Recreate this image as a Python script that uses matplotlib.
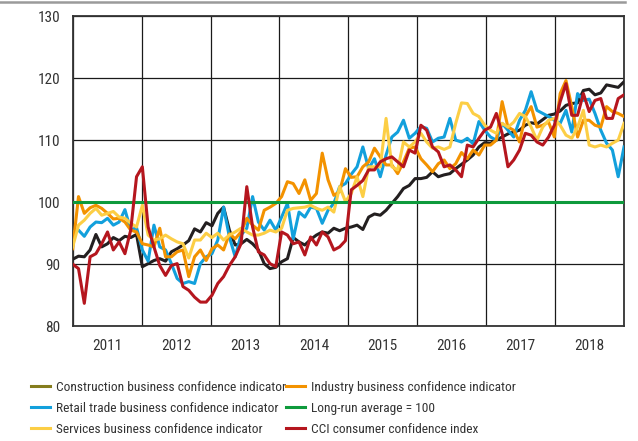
import numpy as np
import matplotlib
matplotlib.use("Agg")
import matplotlib.pyplot as plt
from matplotlib.lines import Line2D
from matplotlib import font_manager

# ----------------------------------------------------------------- data
years = ["2011", "2012", "2013", "2014", "2015", "2016", "2017", "2018"]

construction = [
    90.8, 91.3, 91.2, 92.3, 94.8, 92.8, 93.3, 94.3, 93.8, 94.5, 94.3, 94.8,
    89.6, 90.1, 90.6, 90.9, 90.5, 92.0, 92.5, 93.1, 93.8, 95.7, 95.2, 96.7,
    96.2, 98.2, 99.2, 95.5, 93.1, 93.3, 94.0, 93.3, 92.3, 90.1, 89.3, 89.5,
    90.4, 90.9, 94.3, 93.6, 93.1, 94.0, 94.7, 95.2, 95.0, 95.8, 95.4, 95.8,
    96.0, 96.3, 95.6, 97.6, 98.1, 97.9, 98.7, 99.8, 100.9, 102.2, 102.7, 103.8,
    103.8, 104.0, 104.9, 104.1, 104.4, 104.6, 105.4, 106.1, 106.8, 107.6, 108.9, 109.6,
    109.5, 110.0, 110.5, 111.0, 111.3, 111.6, 112.4, 112.8, 112.6, 113.3, 114.0, 114.2,
    114.7, 115.6, 115.9, 116.0, 118.0, 118.2, 117.3, 117.6, 118.9, 118.7, 118.5, 119.4,
]

retail = [
    95.2, 95.5, 94.5, 96.0, 96.8, 96.7, 97.4, 96.3, 96.8, 98.8, 95.5, 95.9,
    92.3, 90.5, 96.3, 92.8, 92.3, 90.1, 87.7, 86.9, 87.2, 86.9, 90.1, 91.2,
    91.7, 93.9, 99.2, 94.4, 91.2, 94.7, 95.8, 100.9, 96.8, 95.5, 97.1, 95.5,
    97.6, 99.8, 94.1, 98.4, 97.6, 99.2, 99.0, 96.6, 98.7, 99.8, 102.5, 103.0,
    104.5, 105.7, 108.9, 105.4, 107.0, 104.1, 107.6, 110.5, 111.3, 113.2, 110.3, 111.1,
    112.2, 111.9, 109.7, 110.3, 110.5, 113.5, 110.0, 109.7, 110.3, 109.4, 113.0, 111.6,
    110.5, 110.0, 112.7, 111.6, 110.5, 113.2, 114.8, 117.8, 114.8, 114.3, 113.8, 113.2,
    112.7, 114.8, 111.3, 117.5, 116.4, 116.6, 114.3, 111.6, 109.5, 108.4, 104.1, 108.9,
]

industry = [
    92.5, 100.9, 98.2, 99.1, 99.5, 99.0, 98.2, 97.3, 97.4, 96.8, 95.5, 95.2,
    93.3, 93.1, 92.8, 95.8, 91.2, 91.2, 92.0, 92.3, 88.0, 91.2, 92.3, 90.6,
    92.5, 93.1, 92.3, 94.9, 94.1, 95.2, 97.4, 96.3, 95.5, 98.7, 99.2, 99.8,
    100.9, 103.3, 103.0, 101.4, 103.6, 100.3, 101.4, 107.9, 103.6, 101.1, 101.7, 105.4,
    104.0, 104.1, 105.7, 106.5, 108.7, 107.3, 106.0, 106.0, 104.6, 106.5, 108.7, 108.9,
    107.0, 106.0, 104.9, 106.2, 106.8, 105.4, 106.2, 108.0, 107.0, 108.4, 107.6, 109.2,
    109.2, 110.0, 116.2, 112.1, 111.6, 109.7, 113.8, 115.4, 112.1, 112.4, 112.9, 110.5,
    117.5, 119.6, 115.4, 110.5, 113.2, 113.2, 112.4, 112.1, 115.4, 114.6, 114.3, 113.8,
]

services = [
    92.8, 96.3, 97.1, 98.2, 99.0, 97.9, 98.2, 98.5, 97.6, 97.4, 96.6, 96.0,
    99.5, 94.7, 93.9, 94.1, 94.7, 94.1, 93.6, 93.3, 91.0, 93.9, 93.9, 95.0,
    94.3, 95.0, 93.9, 94.7, 95.2, 95.8, 95.2, 94.7, 94.7, 95.0, 95.5, 95.2,
    95.8, 98.7, 99.0, 99.1, 99.2, 99.5, 99.0, 98.7, 99.2, 98.4, 102.5, 100.1,
    101.4, 104.1, 100.9, 105.7, 105.7, 105.7, 113.5, 105.7, 105.2, 109.7, 108.9, 109.7,
    111.1, 109.7, 108.7, 108.9, 108.5, 108.9, 112.7, 116.0, 115.9, 114.3, 113.8, 112.4,
    111.6, 111.1, 112.7, 112.1, 112.9, 114.3, 113.8, 112.1, 110.0, 112.1, 113.2, 113.5,
    112.4, 110.8, 110.3, 112.1, 114.8, 109.2, 108.9, 109.2, 108.9, 109.5, 110.0, 112.7,
]

cci = [
    90.0, 89.3, 83.7, 91.2, 91.7, 93.3, 95.2, 92.3, 93.6, 91.7, 95.5, 104.1,
    105.7, 96.0, 92.8, 89.8, 88.2, 89.8, 90.1, 86.4, 85.8, 84.7, 83.9, 83.9,
    85.0, 86.9, 88.0, 89.8, 91.2, 93.3, 102.5, 96.0, 92.0, 91.5, 90.1, 89.6,
    95.2, 94.7, 93.3, 93.6, 91.5, 94.4, 93.1, 95.2, 94.4, 92.3, 92.8, 93.8,
    102.0, 102.7, 103.5, 105.2, 105.2, 106.5, 107.0, 107.3, 106.5, 105.7, 108.4, 107.9,
    112.4, 111.6, 108.9, 108.1, 105.7, 106.0, 105.2, 104.1, 109.2, 108.9, 110.3, 111.6,
    112.1, 114.3, 111.1, 105.7, 106.8, 108.4, 111.1, 110.8, 109.7, 109.2, 110.5, 112.4,
    116.2, 119.1, 114.0, 114.0, 117.5, 114.6, 116.4, 116.7, 113.5, 113.5, 116.7, 117.3,
]

long_run = 100

labels = [
    "Construction business confidence indicator",
    "Retail trade business confidence indicator",
    "Services business confidence indicator",
    "Industry business confidence indicator",
    "Long-run average = 100",
    "CCI consumer confidence index",
]

# ----------------------------------------------------------------- style
installed = {f.name for f in font_manager.fontManager.ttflist}
font = "DejaVu Sans"
for name in ["Liberation Sans Narrow", "Roboto Condensed", "Open Sans Condensed", "Liberation Sans"]:
    if name in installed:
        font = name
        break
plt.rcParams["font.family"] = [font, "DejaVu Sans"]

c_black = "#231f20"
c_olive = "#857d1e"
c_blue = "#12a0dc"
c_orange = "#f39200"
c_yellow = "#fcce45"
c_green = "#0e9a3c"
c_red = "#b5161e"
txt = "#333333"
lw = 2.2

fig = plt.figure(figsize=(6.38, 4.41), dpi=100)
ax = fig.add_axes([72.7 / 638, 1 - 326.3 / 441, (624 - 72.7) / 638, (326.3 - 16) / 441])

n = len(construction)
x = np.linspace(0, 8, n)

ax.plot(x, construction, color=c_black, lw=lw, zorder=3)
ax.plot(x, retail, color=c_blue, lw=lw, zorder=3)
ax.plot(x, industry, color=c_orange, lw=lw, zorder=3)
ax.plot(x, services, color=c_yellow, lw=lw, zorder=3)
ax.axhline(long_run, color=c_green, lw=lw, zorder=3)
ax.plot(x, cci, color=c_red, lw=lw, zorder=3)

ax.set_xlim(0, 8)
ax.set_ylim(80, 130)
ax.set_yticks(range(80, 131, 10))
ax.set_xticks(range(0, 9))
ax.set_xticklabels([])
ax.set_xticks(np.arange(0.5, 8, 1), minor=True)
ax.set_xticklabels(years, minor=True)
ax.tick_params(which="both", length=0, labelsize=11, colors=txt)
ax.tick_params(axis="y", pad=9)
ax.tick_params(axis="x", which="minor", pad=9.5)
ax.grid(True, which="major", color="#1a1a1a", lw=0.9, zorder=1)
for s in ax.spines.values():
    s.set_color("#333333")
    s.set_linewidth(1.3)

# grey rule along the top of the figure
fig.add_artist(Line2D([0, 625 / 638], [1 - 1.5 / 441] * 2, color="#9a9a9a", lw=1.8))

# legend in two columns
colors = [c_olive, c_blue, c_yellow, c_orange, c_green, c_red]
handles = [Line2D([], [], color=c, lw=lw) for c in colors]
kw = dict(loc="upper left", frameon=False, fontsize=9.6, handlelength=1.4,
          handletextpad=0.45, labelspacing=0.6, borderpad=0, borderaxespad=0,
          labelcolor=txt)
fig.legend(handles[:3], labels[:3], bbox_to_anchor=(31 / 638, 1 - 381 / 441), **kw)
fig.legend(handles[3:], labels[3:], bbox_to_anchor=(286 / 638, 1 - 381 / 441), **kw)

fig.savefig("out.png", dpi=100)
